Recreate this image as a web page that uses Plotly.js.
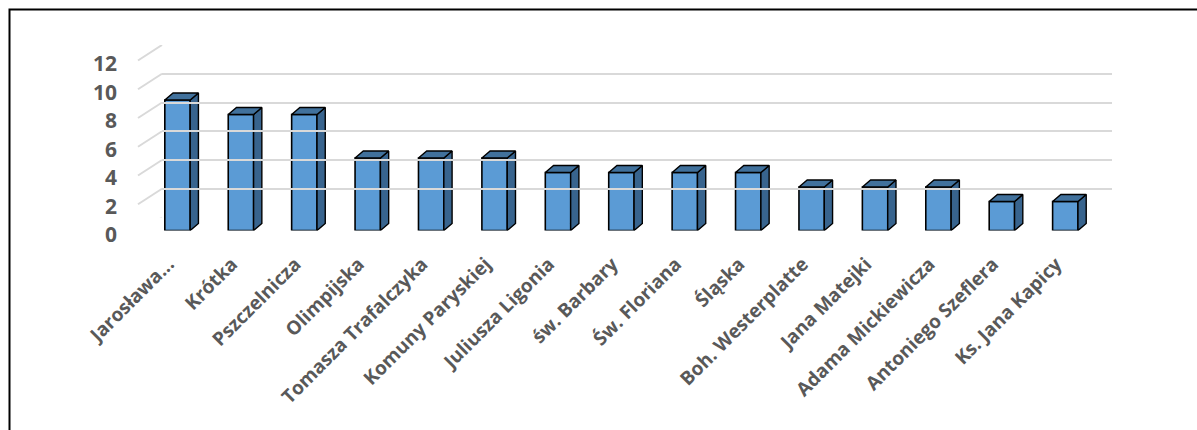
<!DOCTYPE html>
<html>
<head>
<meta charset="utf-8">
<script src="https://cdn.plot.ly/plotly-3.0.1.min.js"></script>
<style>html,body{margin:0;padding:0;background:#fff;}#chart{width:1197px;height:430px;}</style>
</head>
<body>
<div id="chart"></div>
<script>
const categories = ["Jarosława...", "Krótka", "Pszczelnicza", "Olimpijska", "Tomasza Trafalczyka",
  "Komuny Paryskiej", "Juliusza Ligonia", "św. Barbary", "Św. Floriana", "Śląska",
  "Boh. Westerplatte", "Jana Matejki", "Adama Mickiewicza", "Antoniego Szeflera", "Ks. Jana Kapicy"];
const values = [9, 8, 8, 5, 5, 5, 4, 4, 4, 4, 3, 3, 3, 2, 2];
const yTicks = [0, 2, 4, 6, 8, 10, 12];

const W = 1197, H = 430;
const px = x => x / W, py = y => (H - y) / H;

const idx = categories.map((_, i) => i);
const bw = 0.4;      // bar front width (category units)
const dx = 0.13;     // depth offset x (category units)
const dy = 0.48;     // depth offset y (value units)

const sideX = [], sideY = [], topX = [], topY = [];
values.forEach((v, i) => {
  const r = i + bw / 2, l = i - bw / 2;
  sideX.push(r, r + dx, r + dx, r, r, null);
  sideY.push(0, dy, v + dy, v, 0, null);
  topX.push(l, l + dx, r + dx, r, l, null);
  topY.push(v, v + dy, v + dy, v, v, null);
});

const font = "Open Sans, Lato, sans-serif";
const gray = "#595959";

const traces = [
  { type: "scatter", x: [0, 1], y: [0, 12], xaxis: "x2", yaxis: "y2", mode: "none", hoverinfo: "skip", showlegend: false },
  { type: "scatter", x: [0], y: [0], xaxis: "x3", yaxis: "y", mode: "none", hoverinfo: "skip", showlegend: false },
  { type: "bar", x: idx, y: values, xaxis: "x", yaxis: "y3", width: bw,
    marker: { color: "#5B9BD5", line: { color: "#000", width: 1.6 } }, showlegend: false },
  { type: "scatter", x: sideX, y: sideY, xaxis: "x", yaxis: "y3", mode: "lines", fill: "toself",
    fillcolor: "#38648E", line: { color: "#000", width: 1.4 }, hoverinfo: "skip", showlegend: false },
  { type: "scatter", x: topX, y: topY, xaxis: "x", yaxis: "y3", mode: "lines", fill: "toself",
    fillcolor: "#41719C", line: { color: "#000", width: 1.4 }, hoverinfo: "skip", showlegend: false }
];

const depthY = 15.5 / 14.4;
const shapes = yTicks.map(t => ({
  type: "line", layer: "below", xref: "paper", yref: "y2",
  x0: px(138), y0: t - depthY, x1: px(162), y1: t,
  line: { color: "#d9d9d9", width: 2 }
}));
shapes.push({
  type: "rect", xref: "paper", yref: "paper",
  x0: px(9.5), y0: -0.05, x1: 1.05, y1: py(9.5),
  line: { color: "#000", width: 2 }, fillcolor: "rgba(0,0,0,0)"
});

const layout = {
  width: W, height: H,
  margin: { l: 0, r: 0, t: 0, b: 0 },
  paper_bgcolor: "#fff", plot_bgcolor: "rgba(0,0,0,0)",
  showlegend: false,
  font: { family: font, color: gray },
  xaxis: {
    domain: [px(145.8), px(1097)], range: [-0.5, 14.5], anchor: "y3",
    tickmode: "array", tickvals: idx, ticktext: categories, tickangle: -45,
    showgrid: false, zeroline: false, showline: false,
    ticks: "outside", ticklen: 14, tickcolor: "rgba(0,0,0,0)", ticklabelshift: -9,
    tickfont: { family: font, size: 19, color: gray, weight: "bold" },
    automargin: false, fixedrange: true
  },
  xaxis3: { domain: [px(125), px(1097)], range: [0, 1], anchor: "y", visible: false, fixedrange: true },
  yaxis: {
    domain: [py(235), py(64)], range: [0, 12], anchor: "free", position: px(117),
    tickmode: "array", tickvals: yTicks, showgrid: false, zeroline: false, showline: false, ticks: "",
    tickfont: { family: font, size: 21, color: gray, weight: "bold" },
    automargin: false, fixedrange: true
  },
  xaxis2: { domain: [px(162), px(1112)], range: [0, 1], anchor: "y2", visible: false, fixedrange: true },
  yaxis2: {
    domain: [py(217.5), py(45)], range: [0, 12], anchor: "x2",
    tickmode: "array", tickvals: yTicks, showgrid: true, gridcolor: "#d9d9d9", gridwidth: 2,
    zeroline: false, showline: false, showticklabels: false, ticks: "", fixedrange: true
  },
  yaxis3: {
    domain: [py(230.5), py(56.5)], range: [0, 12], anchor: "x",
    showgrid: false, zeroline: false, showline: false, showticklabels: false, ticks: "", fixedrange: true
  },
  shapes: shapes
};

Plotly.newPlot("chart", traces, layout, { displayModeBar: false, staticPlot: true });
</script>
</body>
</html>
